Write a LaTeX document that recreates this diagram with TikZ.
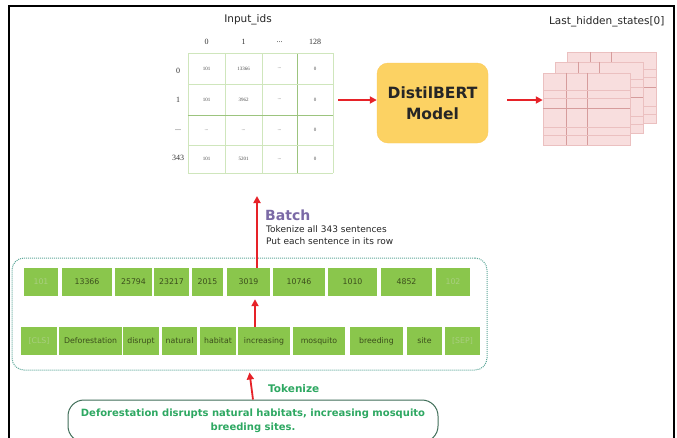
\documentclass[tikz,border=0pt]{standalone}
\usepackage{fontspec}
\setmainfont{DejaVu Sans}
\newfontfamily\numserif{Liberation Serif}
\usetikzlibrary{arrows.meta,calc}
\definecolor{arrred}{HTML}{E62228}
\definecolor{tokgreen}{HTML}{8AC64C}
\definecolor{tokdark}{HTML}{3B4E1C}
\definecolor{toklight}{HTML}{A9CF80}
\definecolor{gridgreen}{HTML}{CFE6BC}
\definecolor{gridgreendark}{HTML}{9CC47E}
\definecolor{modelfill}{HTML}{FCD263}
\definecolor{sheetfill}{HTML}{F8DEDE}
\definecolor{sheetline}{HTML}{EBC0C0}
\definecolor{sheetdark}{HTML}{D69C9C}
\definecolor{batchpurple}{HTML}{7B6AA6}
\definecolor{tokgreentext}{HTML}{2EA862}
\definecolor{dashteal}{HTML}{5EA89A}
\definecolor{sentedge}{HTML}{3F6E58}
\newcommand\myell{...}
\tikzset{
  arr/.style={draw=arrred, line width=1.8pt, -{Triangle[length=7pt,width=7pt]}},
  tokbox/.style={fill=tokgreen, minimum height=28pt, inner sep=0pt, font=\fontsize{7.8}{9}\selectfont, text=tokdark},
  toklite/.style={tokbox, text=toklight},
  cell/.style={font=\numserif\fontsize{5}{6}\selectfont, text=black!70, inner sep=0pt},
  hdr/.style={font=\numserif\fontsize{8}{9}\selectfont, text=black!80, inner sep=0pt},
  sheet/.style={fill=sheetfill, draw=sheetline, line width=0.5pt, inner sep=0pt},
}
\newcommand\sheetlines[1]{%
  \foreach \dx in {23,44} {\draw[sheetdark, line width=0.5pt] ([xshift=\dx pt]#1.north west) -- ([xshift=\dx pt]#1.south west);}
  \foreach \dy in {17,25,54,62} {\draw[sheetline, line width=0.4pt] ([yshift=-\dy pt]#1.north west) -- ([yshift=-\dy pt]#1.north east);}
  \draw[sheetdark, line width=0.6pt] ([yshift=-36pt]#1.north west) -- ([yshift=-36pt]#1.north east);
}
\begin{document}
\begin{tikzpicture}[x=1pt,y=-1pt]
\useasboundingbox (0,0) rectangle (677,437);
\clip (0,0) rectangle (677,437);
\fill[white] (0,0) rectangle (677,437);
% frame
\draw[line width=2pt] (9,460) -- (9,6) -- (674,6) -- (674,460);

% ---------- Input_ids grid ----------
\node[font=\fontsize{10.5}{12}\selectfont, text=black!85] (inputtitle) at (248,20) {Input\_ids};
\foreach \x/\t [count=\i] in {206.5/0, 243.5/1, 279.5/\myell, 315/128}
  \node[hdr] (h\i) at (\x,42) {\t};
\foreach \y/\t [count=\i] in {71/0, 100/1, 130/\myell, 158/343}
  \node[hdr] (r\i) at (178,\y) {\t};
\foreach \x in {188,225,262,333} \draw[gridgreen, line width=0.7pt] (\x,53) -- (\x,173);
\draw[gridgreendark, line width=0.7pt] (297,53) -- (297,173);
\foreach \y in {53,84,145,173} \draw[gridgreen, line width=0.7pt] (188,\y) -- (333,\y);
\draw[gridgreendark, line width=0.7pt] (188,115) -- (333,115);
\node[minimum width=145pt, minimum height=120pt, inner sep=0pt] (grid) at (260.5,113) {};
\foreach \y/\a/\b/\c/\d [count=\j] in {68.5/101/13366/\myell/0, 99.5/101/3962/\myell/0, 130/\myell/\myell/\myell/0, 159/101/5201/\myell/0}{
  \node[cell] (c\j-1) at (206.5,\y) {\a};
  \node[cell] (c\j-2) at (243.5,\y) {\b};
  \node[cell] (c\j-3) at (279.5,\y) {\c};
  \node[cell] (c\j-4) at (315,\y) {\d};
}

% ---------- model ----------
\node[fill=modelfill, draw=modelfill!90!orange, rounded corners=11pt, minimum width=111pt, minimum height=80pt,
      align=center, font=\bfseries\fontsize{15.5}{21}\selectfont, text=black!85] (model) at (432.5,103) {DistilBERT\\Model};
\draw[arr] ([xshift=5pt]grid.east |- 0,100) -- (model.west |- 0,100);

% ---------- hidden states ----------
\node[font=\fontsize{10.5}{12}\selectfont, text=black!85, anchor=east] (lhs) at (668,22) {Last\_hidden\_states[0]};
\node[sheet, minimum width=89pt, minimum height=71pt] (back) at (611.5,87.5) {};
\sheetlines{back}
\node[sheet, minimum width=88pt, minimum height=71pt] (mid) at (599,97.5) {};
\sheetlines{mid}
\node[sheet, minimum width=87pt, minimum height=72pt] (front) at (586.5,109) {};
\sheetlines{front}
\draw[arr] ([xshift=19pt]model.east |- 0,100) -- (front.west |- 0,100);

% ---------- batch box ----------
\node[draw=dashteal, densely dotted, line width=1pt, rounded corners=12pt, minimum width=475pt, minimum height=112pt] (batchbox) at (249.5,314) {};

\foreach \l/\r/\t [count=\i] in {24/58/101, 62/112/13366, 115/152/25794, 154/189/23217, 192/223/2015, 227/270/3019, 273/325/10746, 328/377/1010, 381/432/4852, 436/470/102}{
  \ifnum\i=1 \def\st{toklite}\else\ifnum\i=10 \def\st{toklite}\else\def\st{tokbox}\fi\fi
  \node[\st, minimum width={(\r-\l)*1pt}] (t\i) at ({(\l+\r)/2},282) {\t};
}
\foreach \l/\r/\t [count=\i] in {21/57/[CLS], 59/122/Deforestation, 123/159/disrupt, 162/197/natural, 200/236/habitat, 238/290/increasing, 293/345/mosquito, 350/403/breeding, 407/442/site, 445/480/[SEP]}{
  \ifnum\i=1 \def\st{toklite}\else\ifnum\i=10 \def\st{toklite}\else\def\st{tokbox}\fi\fi
  \node[\st, minimum width={(\r-\l)*1pt}] (w\i) at ({(\l+\r)/2},341) {\t};
}
\coordinate (axis) at (255,0);
\draw[arr] (w6.north -| axis) -- ([yshift=-3pt]t6.south -| axis);
\coordinate (batchtip) at (257,196);
\draw[arr] (t6.north -| batchtip) -- (batchtip);

\node[anchor=west, font=\bfseries\fontsize{14}{16}\selectfont, text=batchpurple, inner sep=0pt] (batchlbl) at (265,215) {Batch};
\node[anchor=north west, align=left, font=\fontsize{9}{12}\selectfont, text=black!85, inner sep=0pt] (batchtxt) at (266,225) {Tokenize all 343 sentences\\Put each sentence in its row};

% ---------- sentence ----------
\node[draw=sentedge, line width=1pt, rounded corners=16pt, minimum width=370pt, minimum height=42pt, align=center,
      font=\bfseries\fontsize{10}{14}\selectfont, text=tokgreentext, inner sep=0pt] (sent) at (253,421)
      {Deforestation disrupts natural habitats, increasing mosquito\\breeding sites.};
\draw[arr] (sent.north) -- ([yshift=-2pt]batchbox.south);
\node[anchor=west, font=\bfseries\fontsize{10.5}{12}\selectfont, text=tokgreentext, inner sep=0pt] (toklbl) at (268,389) {Tokenize};
\end{tikzpicture}
\end{document}
